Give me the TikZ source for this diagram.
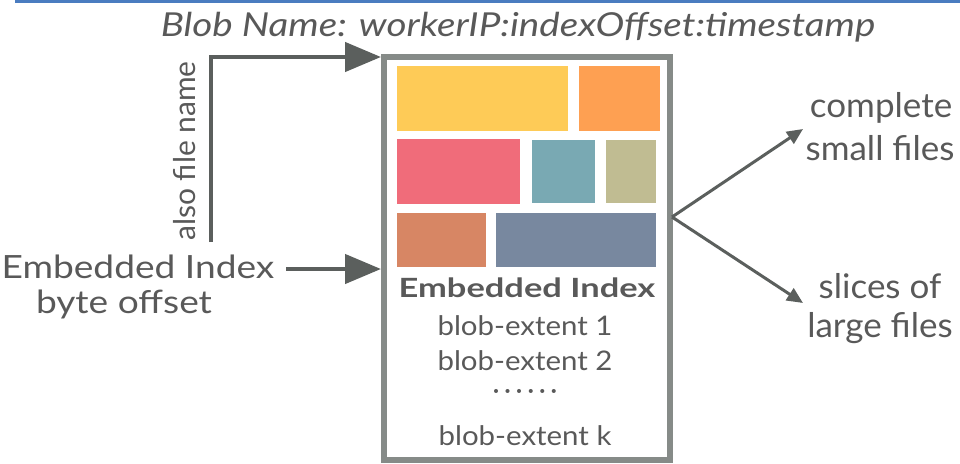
\documentclass[tikz,border=0pt]{standalone}
\usepackage{fontspec}
\setmainfont{Lato}
\usetikzlibrary{arrows.meta}
\definecolor{txt}{HTML}{595959}
\definecolor{arr}{HTML}{5B5F5D}
\definecolor{frame}{HTML}{868B88}
\definecolor{rule}{HTML}{4A7CC0}
\definecolor{cA}{HTML}{FECB57}
\definecolor{cB}{HTML}{FEA052}
\definecolor{cC}{HTML}{F06C7A}
\definecolor{cD}{HTML}{79A9B3}
\definecolor{cE}{HTML}{C0BC92}
\definecolor{cF}{HTML}{D78664}
\definecolor{cG}{HTML}{78889F}
% size and horizontal stretch of a label font
\newcommand{\lblfont}[2]{\fontsize{#1}{#1}\selectfont\addfontfeature{FakeStretch=#2}}
\tikzset{
  lbl/.style={text=txt, inner sep=0pt, anchor=base},
  thick arrow/.style={draw=arr, line width=4.5pt, -{Triangle[length=36pt,width=29pt]}},
  thin arrow/.style={draw=arr, line width=3pt, -{Triangle[length=16pt,width=14pt]}},
}
\begin{document}
\begin{tikzpicture}[x=1pt,y=-1pt]
\useasboundingbox (0,0) rectangle (960,463);
% top rule
\fill[rule] (15,0) rectangle (960,3);
% title
\node[lbl, font=\itshape\lblfont{33}{1.17}] (title) at (518,36) {Blob Name: workerIP:indexOffset:timestamp};
% blob container
\draw[frame, line width=5.5pt] (384,57) rectangle (670,460);
\coordinate (boxTL) at (381,57);
\coordinate (boxL) at (381,269);
\coordinate (boxR) at (672,217);
% file blocks
\fill[cA] (397,66) rectangle (568,131);
\fill[cB] (579,66) rectangle (660,131);
\fill[cC] (397,139) rectangle (520,204);
\fill[cD] (532,140) rectangle (595,203);
\fill[cE] (606,140) rectangle (656,203);
\fill[cF] (397,213) rectangle (486,267);
\fill[cG] (496,213) rectangle (656,267);
% embedded index
\node[lbl, font=\bfseries\lblfont{26.5}{1.3}] (eidx) at (527,297) {Embedded Index};
\node[lbl, font=\lblfont{27}{1.09}] (e1) at (525,335) {blob-extent 1};
\node[lbl, font=\lblfont{27}{1.09}] (e2) at (525,370) {blob-extent 2};
\node[lbl, font=\lblfont{27}{1.0}] (dots) at (525,399) {\textperiodcentered\,\textperiodcentered\,\textperiodcentered\,\textperiodcentered\,\textperiodcentered\,\textperiodcentered};
\node[lbl, font=\lblfont{27}{1.09}] (ek) at (525,445) {blob-extent k};
% left side
\node[lbl, font=\lblfont{32}{1.16}] (offsetA) at (138,278) {Embedded Index};
\node[lbl, font=\lblfont{32}{1.16}] (offsetB) at (124,313) {byte offset};
\node[lbl, rotate=90, font=\lblfont{30}{1.0}] (alsoname) at (195,151) {also file name};
\coordinate (bendStart) at (211,242);
\coordinate (offStart) at (286,269);
\draw[thick arrow] (bendStart) |- (boxTL);
\draw[thick arrow] (offStart) -- (boxL);
% right side
\node[lbl, font=\lblfont{34}{1.03}] (smallA) at (881,117) {complete};
\node[lbl, font=\lblfont{34}{1.03}] (smallB) at (880,160) {small files};
\node[lbl, font=\lblfont{34}{1.03}] (largeA) at (880,298) {slices of};
\node[lbl, font=\lblfont{34}{1.03}] (largeB) at (880,337) {large files};
\coordinate (smallTip) at (803,129);
\coordinate (largeTip) at (803,303);
\draw[thin arrow] (boxR) -- (smallTip);
\draw[thin arrow] (boxR) -- (largeTip);
\end{tikzpicture}
\end{document}
